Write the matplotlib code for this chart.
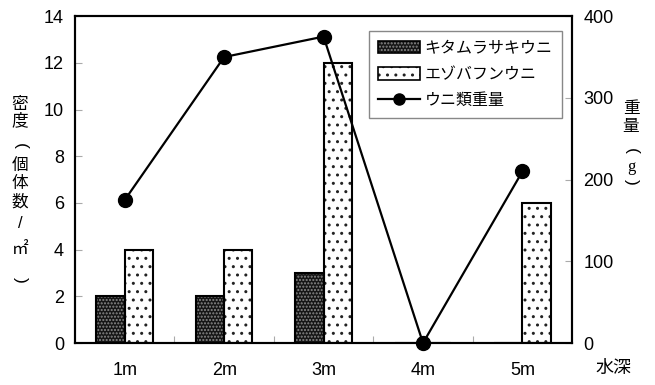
#!/usr/bin/env python3

# Sea urchin density (bars) and weight (line) by water depth

import matplotlib
matplotlib.use("Agg")
import matplotlib.pyplot as plt
from matplotlib.patches import Patch
from matplotlib.lines import Line2D
import numpy as np

plt.rcParams['font.family'] = ['Liberation Sans', 'Noto Sans CJK JP']

depths = ["1m", "2m", "3m", "4m", "5m"]
kitamurasaki = [2, 2, 3, 0, 0]       # density, individuals / m2
ezobafun = [4, 4, 12, 0, 6]          # density, individuals / m2
weight = [175, 350, 375, 0, 210]     # total urchin weight, g

x = np.arange(len(depths))
w = 0.285

fig = plt.figure(figsize=(6.55, 3.85), dpi=100)
ax = fig.add_axes([0.1145, 0.109, 0.759, 0.849])
ax2 = ax.twinx()

# dark dotted bars (two layers: hatch then outline)
ax.bar(x - w / 2, kitamurasaki, w, color='#151515', hatch='.....',
       edgecolor='#8a8a8a', linewidth=0, zorder=2)
ax.bar(x - w / 2, kitamurasaki, w, fill=False, edgecolor='black',
       linewidth=1.5, zorder=3)
ax.bar(x + w / 2, ezobafun, w, color='white', hatch='..',
       edgecolor='#222222', linewidth=0, zorder=2)
ax.bar(x + w / 2, ezobafun, w, fill=False, edgecolor='black',
       linewidth=1.5, zorder=3)

ax2.plot(x, weight, color='black', linewidth=1.6, marker='o',
         markersize=10, clip_on=False, zorder=5)

ax.set_xlim(-0.5, 4.5)
ax.set_ylim(0, 14)
ax.set_yticks(range(0, 15, 2))
ax2.set_ylim(0, 400)
ax2.set_yticks(range(0, 401, 100))

ax.set_xticks(x)
ax.set_xticklabels(depths)
ax.set_xticks(x[:-1] + 0.5, minor=True)
ax.tick_params(axis='x', which='major', length=0, pad=14, labelsize=13)
ax.tick_params(axis='x', which='minor', direction='in', length=5,
               color='#aaaaaa', width=0.8)
ax.tick_params(axis='y', direction='in', length=5, color='#aaaaaa',
               width=0.8, labelsize=13, pad=8)
ax2.tick_params(axis='y', direction='in', length=5, color='#aaaaaa',
                width=0.8, labelsize=13, pad=8)

for a in (ax, ax2):
    for s in a.spines.values():
        s.set_linewidth(1.5)

# vertical axis titles, one character per row (pixel positions from top);
# brackets are ordinary parentheses turned a quarter clockwise
H = 385.0
cjk = ['Noto Sans CJK JP', 'Liberation Sans']


def column(chars, rows, xpix):
    for ch, yy in zip(chars, rows):
        kw = dict(ha='center', va='center', fontsize=12, family=cjk)
        if ch in "()":
            kw.update(rotation=-90, fontsize=12.5, family=['Liberation Sans'])
        elif ch == "/":
            kw.update(family=['Liberation Sans'])
        elif ch == "g":
            kw.update(family=['Liberation Serif'], fontsize=12)
        fig.text(xpix / 655, 1 - yy / H, ch, **kw)


column(["密", "度", "(", "個", "体", "数", "/", "㎡", ")"],
       [105, 121, 146, 165, 184, 202, 224, 250, 280], 20)
column(["重", "量", "(", "g", ")"],
       [108, 126, 151, 167, 182], 631)
fig.text(613 / 655, 1 - 368 / H, "水深", ha='center', va='center',
         fontsize=13, family=cjk)

h1 = (Patch(facecolor='#151515', hatch='.....', edgecolor='#8a8a8a', linewidth=0),
      Patch(fill=False, edgecolor='black', linewidth=1.2))
h2 = (Patch(facecolor='white', hatch='..', edgecolor='#222222', linewidth=0),
      Patch(fill=False, edgecolor='black', linewidth=1.2))
h3 = Line2D([], [], color='black', linewidth=1.6, marker='o', markersize=8)
leg = ax2.legend([h1, h2, h3], ["キタムラサキウニ", "エゾバフンウニ", "ウニ類重量"],
                 loc='upper right', bbox_to_anchor=(0.996, 0.978),
                 fancybox=False, framealpha=1, edgecolor='#888888',
                 fontsize=11.5, handlelength=2.6, handleheight=0.8,
                 borderpad=0.6, labelspacing=0.7, handletextpad=0.3)
leg.get_frame().set_linewidth(1.0)

fig.savefig("out.png", dpi=100)
